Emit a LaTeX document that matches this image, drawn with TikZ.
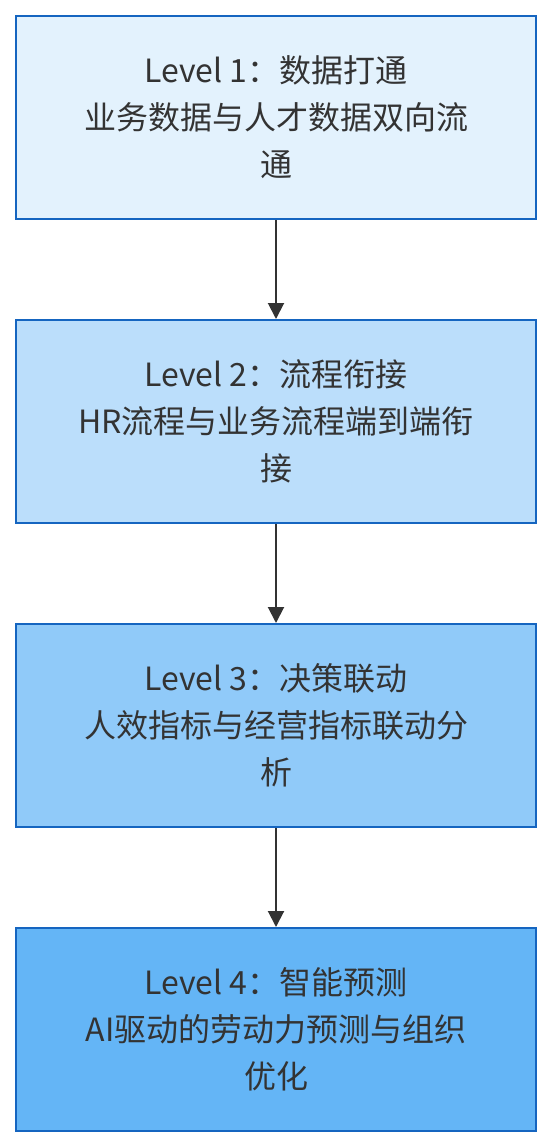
\documentclass[tikz,border=0pt]{standalone}
\usepackage{fontspec}
\setmainfont{Noto Sans CJK SC}
\usetikzlibrary{arrows.meta}
\definecolor{c1}{HTML}{E3F2FD}
\definecolor{c2}{HTML}{BBDEFB}
\definecolor{c3}{HTML}{90CAF9}
\definecolor{c4}{HTML}{64B5F6}
\definecolor{bd}{HTML}{1565C0}
\definecolor{tx}{HTML}{333333}
\tikzset{
  lvl/.style={draw=bd, line width=2pt, minimum width=520pt, minimum height=203pt,
    inner sep=0pt, align=center, text=tx, font=\fontsize{32}{47}\selectfont},
  conn/.style={draw=tx, line width=2pt, -{Triangle[length=16pt,width=16pt]}}
}
\begin{document}
\begin{tikzpicture}[x=1pt,y=1pt]
\useasboundingbox (0,0) rectangle (552,-1148);
\node[lvl, fill=c1] (l1) at (276,-117.5) {Level 1：数据打通\\业务数据与人才数据双向流\\通};
\node[lvl, fill=c2] (l2) at (276,-421.5) {Level 2：流程衔接\\HR流程与业务流程端到端衔\\接};
\node[lvl, fill=c3] (l3) at (276,-725.5) {Level 3：决策联动\\人效指标与经营指标联动分\\析};
\node[lvl, fill=c4] (l4) at (276,-1029.5) {Level 4：智能预测\\AI驱动的劳动力预测与组织\\优化};
\draw[conn] (l1.south) -- (l2.north);
\draw[conn] (l2.south) -- (l3.north);
\draw[conn] (l3.south) -- (l4.north);
\end{tikzpicture}
\end{document}
